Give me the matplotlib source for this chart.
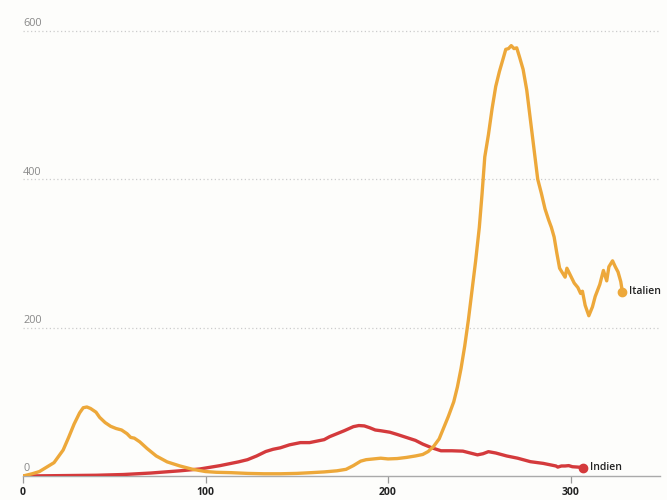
import matplotlib
matplotlib.use("Agg")
import matplotlib.pyplot as plt

# Data
italy_x = [0, 5, 9, 13, 17, 22, 25, 28, 31, 33, 35, 37, 40, 42, 45, 48, 51, 54, 57, 59, 61, 64, 68, 73, 79, 86, 93, 100,
           106, 114, 123, 132, 141, 150, 158, 165, 172, 177, 181, 185, 188, 192, 196, 200, 205, 210, 215, 219, 222,
           225, 228, 230, 233, 236, 238, 240, 242, 244, 246, 248, 250, 251.5, 253, 255, 257, 259, 261, 263, 264.5,
           266, 267.5, 269, 270.5, 272, 274, 276, 278, 280, 282, 284, 286, 288, 289.5, 291, 292.5, 294, 296, 297,
           298, 300, 302, 304, 305.5, 306.5, 308, 310, 312, 313.5, 316, 318, 319.8, 321, 323, 324.5, 326, 327.5, 328.4]
italy_y = [0, 3, 6, 12, 18, 35, 52, 70, 85, 92, 93, 91, 86, 79, 72, 67, 64, 62, 57, 52, 51, 46, 37, 27, 19, 13.5, 9, 6,
           5, 4.5, 3.5, 3, 3, 3.5, 4.5, 5.5, 7, 9, 14, 20, 22, 23, 24, 23, 23.5, 25, 27, 29, 33,
           40, 50, 62, 80, 100, 120, 145, 175, 210, 250, 290, 335, 380, 430, 460, 495, 525, 545, 562, 575,
           576, 580, 576, 577, 565, 548, 520, 480, 440, 400, 381, 360, 345, 335, 322, 300, 280, 272, 268,
           280, 270, 260, 254, 246, 249, 230, 216, 228, 242, 258, 277, 263, 282, 290, 282, 275, 262, 248]

india_x = [0, 20, 40, 55, 70, 86, 97, 108, 118, 123, 128, 133, 137, 141, 146, 152, 157, 161, 165, 168, 172, 176, 181,
           184, 187, 190, 193, 196, 201, 205, 210, 215, 219, 224, 229, 235, 241, 245, 249, 252, 255, 259, 265,
           271, 278, 285, 289, 292, 293, 295, 297, 299, 301, 304, 307]
india_y = [0, 0.5, 1, 2, 4, 7, 9.5, 14, 19, 22, 27, 33, 36, 38, 42, 45, 45, 47, 49, 53, 57, 61, 66.5,
           68, 67.5, 65, 62, 61, 59, 56, 52, 48, 43, 38, 34, 34, 33.5, 31, 28.5, 30, 32.8, 31, 27,
           24, 19.3, 17, 15, 13.5, 12, 13.5, 13.5, 14, 12.5, 12, 11.2]

x_ticks = [0, 100, 200, 300]
y_ticks = [0, 200, 400, 600]
italy_label = "Italien"
india_label = "Indien"

ORANGE = "#EDA83A"
RED = "#D43A3C"
BG = "#FDFDFB"

plt.rcParams["font.family"] = ["Open Sans", "DejaVu Sans"]

fig = plt.figure(figsize=(6.67, 5.0), dpi=100, facecolor=BG)
ax = fig.add_axes([23 / 667, 24 / 500, 637 / 667, 476 / 500], facecolor=BG)
ax.set_xlim(0, 349)
ax.set_ylim(0, 641.5)

for s in ["top", "right", "left"]:
    ax.spines[s].set_visible(False)
ax.spines["bottom"].set_color("#AAAAAA")
ax.spines["bottom"].set_linewidth(1.0)

# gridlines
for yv in y_ticks[1:]:
    ax.axhline(yv, color="#CCCCCC", lw=0.9, ls=(0, (1, 2)), zorder=0)
ax.set_yticks([])

# y labels above gridlines
for yv in y_ticks:
    ax.annotate(str(yv), (0, yv), xytext=(0, 1.2), textcoords="offset points",
                ha="left", va="bottom", fontsize=7.8, color="#888888")

ax.set_xticks(x_ticks)
ax.set_xticklabels([str(v) for v in x_ticks], fontsize=7.5, fontweight="bold", color="#222222")
ax.tick_params(axis="x", direction="out", length=5, width=0.9, color="#999999", pad=3)

ax.plot(india_x, india_y, color=RED, lw=2.4, solid_capstyle="round", solid_joinstyle="round", zorder=3)
ax.plot(italy_x, italy_y, color=ORANGE, lw=2.4, solid_capstyle="round", solid_joinstyle="round", zorder=4)

ax.plot(india_x[-1], india_y[-1], "o", color=RED, ms=6, zorder=5, clip_on=False)
ax.plot(italy_x[-1], italy_y[-1], "o", color=ORANGE, ms=6, zorder=5, clip_on=False)

ax.annotate(india_label, (india_x[-1], india_y[-1]), xytext=(5, 0), textcoords="offset points",
            ha="left", va="center", fontsize=7.5, fontweight="semibold", color="#222222")
ax.annotate(italy_label, (italy_x[-1], italy_y[-1]), xytext=(5, 0), textcoords="offset points",
            ha="left", va="center", fontsize=7.5, fontweight="semibold", color="#222222")

fig.savefig("out.png", dpi=100, facecolor=BG)
